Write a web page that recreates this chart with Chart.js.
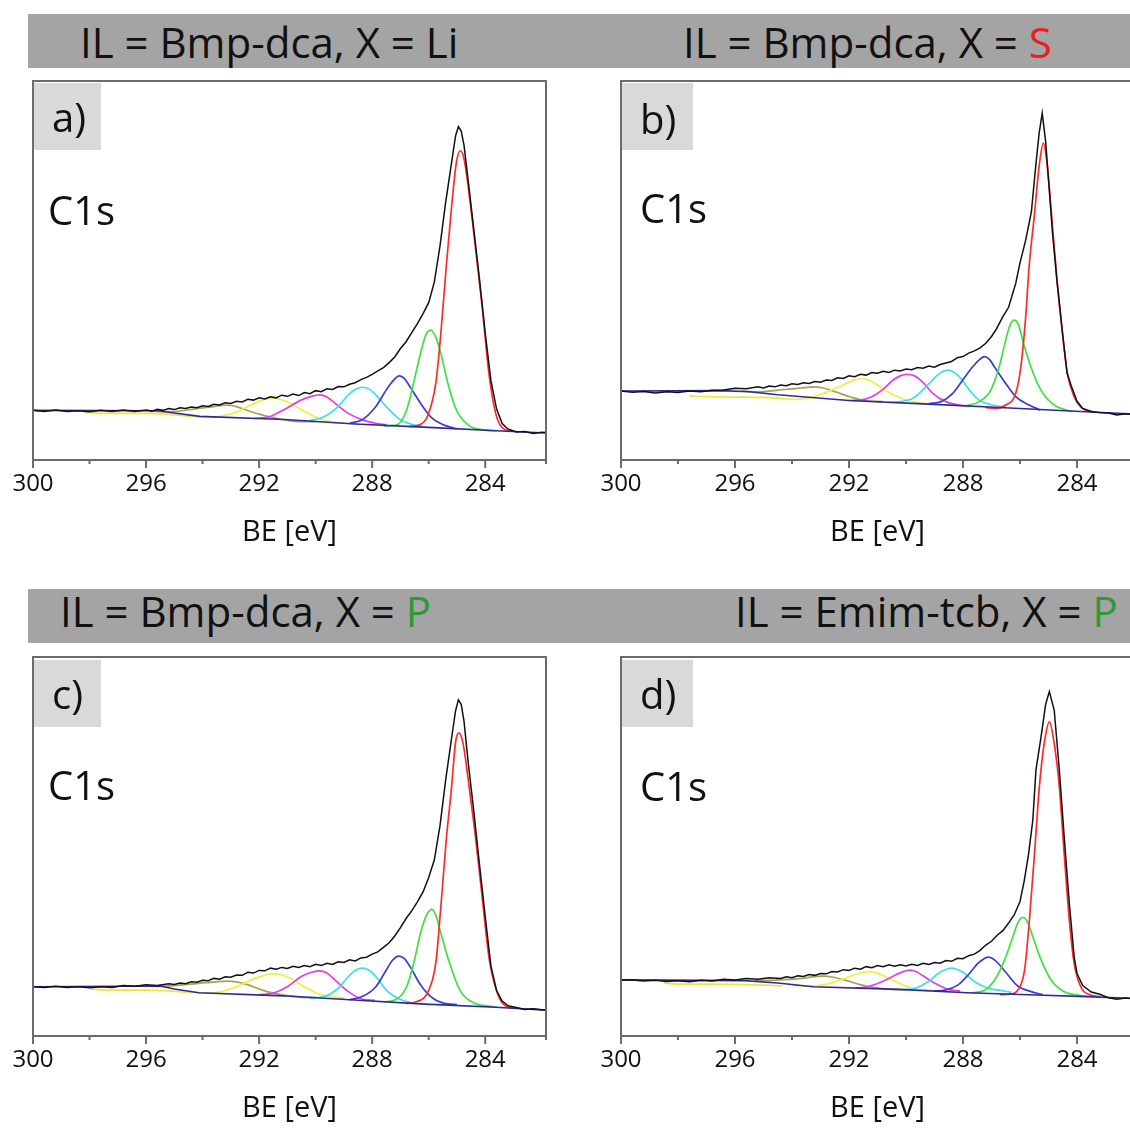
<!DOCTYPE html>
<html>
<head>
<meta charset="utf-8">
<script src="https://cdn.jsdelivr.net/npm/chart.js@4.4.0/dist/chart.umd.min.js"></script>
<style>
  body { margin: 0; width: 1130px; height: 1129px; overflow: hidden; background: #fff; position: relative; font-family: 'Open Sans', sans-serif; }
  .bar { position: absolute; left: 28px; width: 1110px; height: 54px; background: #a4a4a4; }
  .ttl { position: absolute; font-size: 42px; line-height: 42px; color: #111; white-space: nowrap; }
  .tag { position: absolute; height: 67px; background: #d9d9d9; }
  .lbl { position: absolute; font-size: 40px; line-height: 40px; color: #111; white-space: nowrap; }
  canvas { position: absolute; }
</style>
</head>
<body>
<div class="bar" style="top:14px"></div>
<div class="bar" style="top:589px"></div>

<script>
// ---- panel texts ----
const ilNames = ["Bmp-dca", "Bmp-dca", "Bmp-dca", "Emim-tcb"];
const xNames = ["Li", "S", "P", "P"];
const xColors = ["#111", "#e8201e", "#2f9a35", "#2f9a35"];
const panelTags = ["a)", "b)", "c)", "d)"];
const coreLevel = "C1s";
const axisTitle = "BE [eV]";
const majorTicks = [300, 296, 292, 288, 284];

// ---- a) IL = Bmp-dca, X = Li  (points are [BE, intensity]) ----
const aData = [[281.8,7.2],[282.0,7.3],[282.3,7.0],[282.6,7.5],[282.9,7.4],[283.2,8.2],[283.4,9.6],[283.6,13.5],[283.8,21.0],[284.0,33.5],[284.2,47.5],[284.4,60.5],[284.6,73.5],[284.75,83.0],[284.85,86.8],[284.95,88.0],[285.05,85.5],[285.2,78.0],[285.4,68.0],[285.6,56.5],[285.8,47.0],[286.0,41.5],[286.2,38.6],[286.4,36.0],[286.6,33.6],[286.8,31.2],[287.0,29.4],[287.2,27.2],[287.4,25.7],[287.6,24.4],[287.8,23.5],[288.0,22.6],[288.2,21.8],[288.4,21.2],[288.6,20.4],[288.8,20.0],[289.0,19.3],[289.2,19.4],[289.4,18.6],[289.6,18.8],[289.8,18.0],[290.0,18.3],[290.2,17.5],[290.4,17.8],[290.6,17.0],[290.8,17.4],[291.0,16.8],[291.2,17.1],[291.4,16.4],[291.6,16.7],[291.8,16.1],[292.0,16.4],[292.2,15.8],[292.4,16.0],[292.6,15.3],[292.8,15.5],[293.0,14.9],[293.2,15.1],[293.4,14.5],[293.6,14.7],[293.8,14.1],[294.0,14.3],[294.2,13.8],[294.4,14.0],[294.6,13.6],[294.8,13.8],[295.0,13.3],[295.2,13.6],[295.4,13.1],[295.6,13.4],[295.8,12.9],[296.0,13.2],[296.4,12.8],[296.8,13.2],[297.2,12.8],[297.6,13.1],[298.0,12.7],[298.4,13.0],[298.8,12.8],[299.2,13.2],[299.6,12.8],[300.0,13.1]];
const aBackground = [[281.8,7.1],[283.6,7.7],[286,8.6],[288.6,9.5],[291.1,10.7],[294.1,11.5],[295.0,12.4],[295.6,13.0],[300,13.1]];
const aRed = [[283.0,7.6],[283.27,7.9],[283.63,12.3],[283.87,22.9],[284.11,40.5],[284.36,57.0],[284.6,72.0],[284.75,79.5],[284.88,81.6],[285.02,78.5],[285.2,66.0],[285.38,51.0],[285.57,33.4],[285.75,20.2],[286.05,11.4],[286.35,9.2],[286.7,8.8]];
const aGreen = [[283.6,7.7],[284.0,7.9],[284.6,9.2],[285.02,13.2],[285.32,20.2],[285.57,28.1],[285.75,32.4],[285.93,34.3],[286.1,33.0],[286.29,28.1],[286.54,20.2],[286.78,13.2],[287.14,9.2],[287.6,9.0]];
const aBlue = [[285.0,8.2],[285.45,9.2],[285.93,11.4],[286.29,15.0],[286.66,19.3],[286.85,21.4],[287.04,22.2],[287.25,21.0],[287.5,18.5],[287.87,14.1],[288.35,10.6],[288.8,9.7]];
const aCyan = [[286.2,8.8],[286.5,9.2],[287.0,10.6],[287.5,14.1],[287.87,17.2],[288.1,18.7],[288.35,19.2],[288.6,18.6],[288.84,17.2],[289.2,14.1],[289.7,11.4],[290.2,10.4]];
const aMagenta = [[287.5,9.3],[287.87,9.7],[288.35,10.6],[288.84,12.3],[289.32,15.0],[289.6,16.6],[289.85,17.2],[290.15,16.8],[290.52,15.8],[291.14,13.2],[291.64,11.4],[292.14,11.0]];
const aYellow = [[289.0,9.9],[289.27,9.9],[289.9,11.0],[290.4,12.8],[290.9,15.0],[291.2,15.9],[291.52,16.3],[291.85,15.9],[292.15,15.0],[292.64,13.2],[293.14,11.9],[293.64,11.4],[294.0,11.5]];
const aOlive = [[290.0,10.1],[290.5,10.1],[291.4,11.0],[291.9,11.9],[292.39,13.0],[292.8,14.1],[293.14,14.5],[293.6,14.1],[294.14,13.6],[295.14,12.75],[295.8,12.9]];
const aYellow2 = [[293.6,11.4],[294.1,11.4],[295.0,11.9],[296.0,12.3],[297.6,12.3],[298.2,12.6]];

// ---- b) IL = Bmp-dca, X = S ----
const bData = [[282.0,12.0],[282.3,12.2],[282.6,11.9],[282.9,12.4],[283.2,12.5],[283.5,12.8],[283.8,13.6],[284.0,15.5],[284.2,19.5],[284.35,23.0],[284.5,33.0],[284.7,47.0],[284.86,60.0],[285.0,74.0],[285.1,84.0],[285.22,91.5],[285.33,86.2],[285.45,77.4],[285.6,65.5],[285.8,58.0],[286.0,52.0],[286.15,46.6],[286.4,40.3],[286.6,37.8],[286.85,34.3],[287.0,32.6],[287.2,30.8],[287.4,29.6],[287.6,28.8],[287.8,28.2],[288.0,27.3],[288.2,27.0],[288.4,26.0],[288.6,25.6],[288.8,25.2],[289.0,24.5],[289.2,24.8],[289.4,24.2],[289.6,24.4],[289.8,23.8],[290.0,24.0],[290.2,23.5],[290.4,23.7],[290.6,23.1],[290.8,23.4],[291.0,22.9],[291.2,23.1],[291.4,22.4],[291.6,22.6],[291.8,22.0],[292.0,22.2],[292.2,21.5],[292.4,21.7],[292.6,21.0],[292.8,21.1],[293.0,20.5],[293.2,20.7],[293.4,20.2],[293.6,20.4],[293.8,19.9],[294.0,20.1],[294.2,19.6],[294.4,19.8],[294.6,19.3],[294.8,19.5],[295.0,19.0],[295.2,19.3],[295.6,18.8],[296.0,18.9],[296.4,18.5],[296.8,18.4],[297.2,18.0],[297.6,18.2],[298.0,17.8],[298.4,18.0],[298.8,17.7],[299.2,18.1],[299.6,17.9],[300.0,18.2]];
const bBackground = [[282,12.1],[283.7,12.75],[286.9,13.9],[289.4,14.8],[292,15.7],[294.5,17.2],[295.5,18.0],[296.5,18.3],[300,18.2]];
const bRed = [[283.46,12.75],[283.81,13.6],[284.1,16.7],[284.34,22.9],[284.51,33.4],[284.69,46.6],[284.86,61.6],[285.04,77.4],[285.18,83.6],[285.33,77.4],[285.5,64.2],[285.68,51.0],[285.8,37.8],[285.97,24.6],[286.15,17.6],[286.5,14.5],[286.85,13.6],[287.2,13.8]];
const bGreen = [[284.16,12.75],[284.8,14.5],[285.27,18.5],[285.62,24.6],[285.91,31.7],[286.05,35.6],[286.2,36.9],[286.35,35.6],[286.5,31.7],[286.73,24.6],[287.02,18.5],[287.43,15.4],[287.9,14.3]];
const bBlue = [[285.3,13.2],[285.68,14.5],[286.15,16.7],[286.5,20.2],[286.9,24.6],[287.08,26.6],[287.25,27.3],[287.45,26.3],[287.66,24.6],[288.01,21.1],[288.36,17.6],[288.77,15.4],[289.2,14.9]];
const bCyan = [[286.5,13.9],[286.96,14.5],[287.43,15.8],[287.78,18.5],[288.13,22.0],[288.35,23.3],[288.54,23.7],[288.75,23.2],[288.95,22.0],[289.3,19.3],[289.76,16.3],[290.2,15.4],[290.6,15.2]];
const bMagenta = [[287.7,14.2],[288.13,14.5],[288.6,15.4],[289.06,17.6],[289.43,20.7],[289.7,22.2],[289.97,22.6],[290.2,22.2],[290.45,21.1],[290.83,18.5],[291.2,16.7],[291.6,15.8],[292.0,15.7]];
const bYellow = [[289.0,14.7],[289.43,15.0],[289.94,15.7],[290.45,17.2],[290.96,19.5],[291.25,20.9],[291.53,21.5],[291.8,21.1],[292.1,20.2],[292.6,18.5],[293.24,16.7],[293.88,16.0],[294.4,16.2]];
const bOlive = [[290.8,15.4],[291.47,15.7],[291.97,16.7],[292.48,18.0],[292.9,19.0],[293.24,19.3],[293.7,19.0],[294.26,18.6],[295.15,18.0],[295.8,18.2]];
const bYellow2 = [[294.3,16.2],[295.0,16.5],[296.0,16.6],[297.0,16.7],[297.6,17.0]];

// ---- c) IL = Bmp-dca, X = P ----
const cData = [[281.8,6.9],[282.0,6.9],[282.3,7.2],[282.6,7.0],[282.9,7.5],[283.2,8.0],[283.4,9.2],[283.6,12.0],[283.8,18.5],[284.0,31.5],[284.2,45.0],[284.4,59.0],[284.6,72.0],[284.75,83.0],[284.85,87.5],[284.95,88.7],[285.05,85.8],[285.2,78.1],[285.4,67.5],[285.6,55.5],[285.8,46.5],[286.0,41.8],[286.2,38.0],[286.4,35.4],[286.6,33.0],[286.8,31.0],[287.0,28.6],[287.2,26.4],[287.4,24.6],[287.6,23.4],[287.8,22.2],[288.0,21.6],[288.2,20.8],[288.4,20.6],[288.6,19.8],[288.8,20.1],[289.0,19.4],[289.2,19.6],[289.4,18.9],[289.6,19.2],[289.8,18.6],[290.0,18.9],[290.2,18.3],[290.4,18.6],[290.6,18.1],[290.8,18.4],[291.0,17.8],[291.2,18.1],[291.4,17.6],[291.6,17.9],[291.8,17.2],[292.0,17.3],[292.2,16.6],[292.4,16.8],[292.6,16.0],[292.8,16.1],[293.0,15.5],[293.2,15.6],[293.4,15.0],[293.6,15.2],[293.8,14.6],[294.0,14.7],[294.2,14.2],[294.4,14.3],[294.6,13.8],[294.8,14.0],[295.0,13.6],[295.2,13.8],[295.6,13.3],[296.0,13.5],[296.4,13.1],[296.8,13.3],[297.2,12.8],[297.6,13.0],[298.0,12.7],[298.4,13.0],[298.8,12.8],[299.2,13.1],[299.6,12.8],[300.0,13.0]];
const cBackground = [[281.8,6.8],[283.63,7.6],[286.13,8.4],[288.64,9.5],[291.14,10.6],[294.14,11.4],[295.0,12.4],[295.5,13.2],[300,13.0]];
const cRed = [[283.0,7.5],[283.27,7.9],[283.57,11.3],[283.87,20.9],[284.11,36.8],[284.36,53.5],[284.6,67.5],[284.78,77.0],[284.93,80.0],[285.05,77.5],[285.2,64.9],[285.38,51.7],[285.57,34.1],[285.75,19.2],[286.05,11.3],[286.41,9.1],[286.8,8.6]];
const cGreen = [[283.6,7.6],[283.87,7.9],[284.36,8.6],[284.9,12.1],[285.26,19.2],[285.57,27.1],[285.73,31.5],[285.89,33.4],[286.08,31.8],[286.29,27.1],[286.53,19.2],[286.78,13.0],[287.14,9.7],[287.6,9.0]];
const cBlue = [[285.0,8.3],[285.45,8.6],[285.93,10.4],[286.29,13.5],[286.66,18.3],[286.86,20.4],[287.06,21.1],[287.28,20.0],[287.5,17.4],[287.87,13.0],[288.35,10.4],[288.8,9.6]];
const cCyan = [[286.5,8.6],[287.02,9.7],[287.5,12.1],[287.87,15.7],[288.1,17.3],[288.35,17.9],[288.6,17.3],[288.84,15.7],[289.2,12.6],[289.7,10.4],[290.2,10.0]];
const cMagenta = [[287.9,9.4],[288.35,9.7],[288.84,11.7],[289.32,14.8],[289.6,16.6],[289.88,17.2],[290.2,16.7],[290.51,15.7],[291.0,13.0],[291.5,11.3],[292.0,10.9]];
const cYellow = [[289.0,10.0],[289.26,10.2],[289.9,11.1],[290.39,13.0],[290.89,15.2],[291.2,16.1],[291.51,16.4],[291.82,16.0],[292.14,15.2],[292.64,13.5],[293.14,12.1],[293.64,11.4],[294.1,11.4]];
const cOlive = [[290.0,10.1],[290.5,10.2],[291.39,11.1],[291.89,12.1],[292.39,13.5],[292.8,14.3],[293.14,14.5],[293.6,14.2],[294.14,13.9],[295.14,13.2],[295.8,13.1]];
const cYellow2 = [[294.1,11.4],[295.0,11.8],[296.0,12.1],[297.4,12.1],[298.0,12.4]];

// ---- d) IL = Emim-tcb, X = P ----
const dData = [[282.0,9.8],[282.3,10.0],[282.6,9.7],[282.9,10.1],[283.2,11.0],[283.5,11.6],[283.8,13.3],[284.0,16.5],[284.1,20.9],[284.27,35.0],[284.45,52.6],[284.62,70.2],[284.8,86.0],[284.97,90.9],[285.1,87.5],[285.26,79.0],[285.44,70.2],[285.55,57.0],[285.7,48.0],[285.85,41.0],[286.0,35.5],[286.2,32.0],[286.4,29.8],[286.6,27.8],[286.8,26.6],[287.0,25.0],[287.2,24.0],[287.4,22.6],[287.6,21.6],[287.8,21.2],[288.0,20.4],[288.2,20.5],[288.4,19.7],[288.6,19.9],[288.8,19.2],[289.0,19.4],[289.2,18.9],[289.4,19.2],[289.6,18.6],[289.8,18.9],[290.0,18.5],[290.2,18.8],[290.4,18.4],[290.6,18.8],[290.8,18.3],[291.0,18.6],[291.2,18.0],[291.4,18.3],[291.6,17.6],[291.8,17.9],[292.0,17.3],[292.2,17.5],[292.4,16.9],[292.6,17.0],[292.8,16.4],[293.0,16.5],[293.2,16.0],[293.4,16.2],[293.6,15.7],[293.8,15.9],[294.0,15.4],[294.2,15.6],[294.4,15.2],[294.8,15.4],[295.2,15.0],[295.6,15.2],[296.0,14.8],[296.4,15.0],[296.8,14.5],[297.2,14.7],[297.6,14.3],[298.0,14.6],[298.4,14.4],[298.8,14.7],[299.2,14.5],[299.6,14.8],[300.0,14.8]];
const dBackground = [[282,9.9],[283.64,10.4],[285.44,10.8],[287.85,11.4],[290.25,12.3],[293.26,13.0],[294.5,14.0],[295.67,14.6],[300,14.8]];
const dRed = [[283.2,10.4],[283.52,10.8],[283.87,13.0],[284.1,19.2],[284.27,30.6],[284.45,48.2],[284.62,65.8],[284.8,77.2],[284.97,82.9],[285.15,77.2],[285.32,65.8],[285.49,48.2],[285.67,30.6],[285.84,17.4],[286.08,12.1],[286.31,11.1],[286.7,10.9]];
const dGreen = [[283.6,10.4],[283.98,10.8],[284.45,11.7],[284.91,14.8],[285.26,20.1],[285.55,26.2],[285.72,29.8],[285.9,31.3],[286.08,29.8],[286.25,26.2],[286.54,20.1],[286.89,14.8],[287.24,12.1],[287.7,11.4]];
const dBlue = [[285.2,10.9],[285.61,11.7],[286.08,13.2],[286.42,16.1],[286.77,19.2],[286.95,20.4],[287.12,20.8],[287.3,20.2],[287.47,19.2],[287.82,16.1],[288.17,13.5],[288.63,12.1],[289.0,11.9]];
const dCyan = [[286.3,11.5],[286.66,12.0],[287.12,12.6],[287.59,14.3],[287.94,16.5],[288.17,17.5],[288.4,17.9],[288.63,17.5],[288.87,16.5],[289.22,14.3],[289.68,12.6],[290.1,12.2]];
const dMagenta = [[288.1,11.9],[288.52,12.3],[288.98,13.9],[289.45,16.1],[289.65,17.0],[289.85,17.4],[290.1,17.0],[290.37,16.1],[290.85,14.3],[291.34,13.0],[291.8,12.6]];
const dYellow = [[288.7,11.9],[289.17,12.1],[289.77,12.6],[290.25,13.9],[290.73,15.7],[291.0,16.6],[291.28,17.0],[291.55,16.7],[291.82,16.1],[292.3,14.8],[292.78,13.7],[293.38,13.2],[294.0,13.3]];
const dOlive = [[290.0,12.2],[290.5,12.3],[291.1,12.8],[291.58,13.5],[292.18,14.8],[292.55,15.5],[292.9,15.8],[293.3,15.6],[293.62,15.2],[294.46,14.8],[295.3,14.6]];
const dYellow2 = [[294.34,13.2],[295.0,13.4],[296.0,13.6],[297.0,13.7],[298.07,13.7],[298.5,14.0]];

const panels = [
  { left: 0,   top: 70,  min: 281.85, data: aData, bg: aBackground, comps: [aRed, aGreen, aBlue, aCyan, aMagenta, aYellow, aOlive, aYellow2] },
  { left: 588, top: 70,  min: 282,    data: bData, bg: bBackground, comps: [bRed, bGreen, bBlue, bCyan, bMagenta, bYellow, bOlive, bYellow2] },
  { left: 0,   top: 646, min: 281.85, data: cData, bg: cBackground, comps: [cRed, cGreen, cBlue, cCyan, cMagenta, cYellow, cOlive, cYellow2] },
  { left: 588, top: 646, min: 282,    data: dData, bg: dBackground, comps: [dRed, dGreen, dBlue, dCyan, dMagenta, dYellow, dOlive, dYellow2] }
];
const compColors = ["#ff2a2a", "#3ee23e", "#3c3cd2", "#3adfee", "#e23ee8", "#f0f03a", "#a3a356", "#f0e43a"];

// titles, tag boxes and labels
const titlePos = [[80, 21], [683, 21], [60, 590], [735, 590]];
const tagPos = [[34, 83, 67], [622, 83, 71], [34, 660, 67], [622, 660, 71]];
const tagText = [[52, 97], [640, 99], [52, 674], [640, 674]];
const c1sPos = [[48, 190], [640, 188], [48, 765], [640, 766]];

function addDiv(cls, x, y, html, extra) {
  const d = document.createElement("div");
  d.className = cls;
  d.style.left = x + "px";
  d.style.top = y + "px";
  if (extra) d.style.width = extra + "px";
  d.innerHTML = html;
  document.body.appendChild(d);
}

Chart.defaults.font.family = "'Open Sans', sans-serif";
Chart.defaults.color = "#111";

const frame = {
  id: "frame",
  afterDraw(chart) {
    const { ctx, chartArea: { left, top, right, bottom }, scales: { x } } = chart;
    ctx.save();
    ctx.strokeStyle = "#6b6b6b";
    ctx.lineWidth = 2;
    ctx.strokeRect(left, top, right - left, bottom - top);
    x.ticks.forEach(t => {
      const px = x.getPixelForValue(t.value);
      const len = majorTicks.includes(t.value) ? 8 : 4;
      ctx.beginPath();
      ctx.moveTo(px, bottom);
      ctx.lineTo(px, bottom + len);
      ctx.stroke();
    });
    ctx.restore();
  }
};

function line(data, color, width, smooth) {
  return {
    data: data,
    borderColor: color,
    borderWidth: width,
    pointRadius: 0,
    fill: false,
    tension: 0,
    cubicInterpolationMode: smooth ? "monotone" : "default"
  };
}

panels.forEach((p, i) => {
  const canvas = document.createElement("canvas");
  canvas.width = 560;
  canvas.height = 500;
  canvas.style.left = p.left + "px";
  canvas.style.top = p.top + "px";
  document.body.appendChild(canvas);

  // first dataset is drawn on top
  const datasets = [line(p.data, "#111", 1.5, false), line(p.bg, "#2a2a9a", 1.6, false)];
  p.comps.forEach((c, k) => datasets.push(line(c, compColors[k], 1.7, true)));

  new Chart(canvas, {
    type: "line",
    data: { datasets: datasets },
    options: {
      responsive: false,
      animation: false,
      events: [],
      layout: { padding: { left: 33, top: 11, right: 14, bottom: 0 } },
      plugins: { legend: { display: false }, tooltip: { enabled: false } },
      scales: {
        x: {
          type: "linear",
          reverse: true,
          min: p.min,
          max: 300,
          grid: { display: false, drawTicks: false },
          border: { display: false },
          ticks: {
            stepSize: 2,
            autoSkip: false,
            maxRotation: 0,
            padding: 10,
            color: "#111",
            font: { size: 24 },
            callback: v => (majorTicks.includes(v) ? String(v) : "")
          },
          title: { display: true, text: axisTitle, color: "#111", font: { size: 29 }, padding: { top: 0, bottom: 20 } },
          afterFit: s => { s.height = 110; }
        },
        y: { display: false, min: 0, max: 100 }
      }
    },
    plugins: [frame]
  });

  addDiv("ttl", titlePos[i][0], titlePos[i][1],
    "IL = " + ilNames[i] + ", X = <span style=\"color:" + xColors[i] + "\">" + xNames[i] + "</span>");
  addDiv("tag", tagPos[i][0], tagPos[i][1], "", tagPos[i][2]);
  addDiv("lbl", tagText[i][0], tagText[i][1], panelTags[i]);
  addDiv("lbl", c1sPos[i][0], c1sPos[i][1], coreLevel);
});
</script>
</body>
</html>
